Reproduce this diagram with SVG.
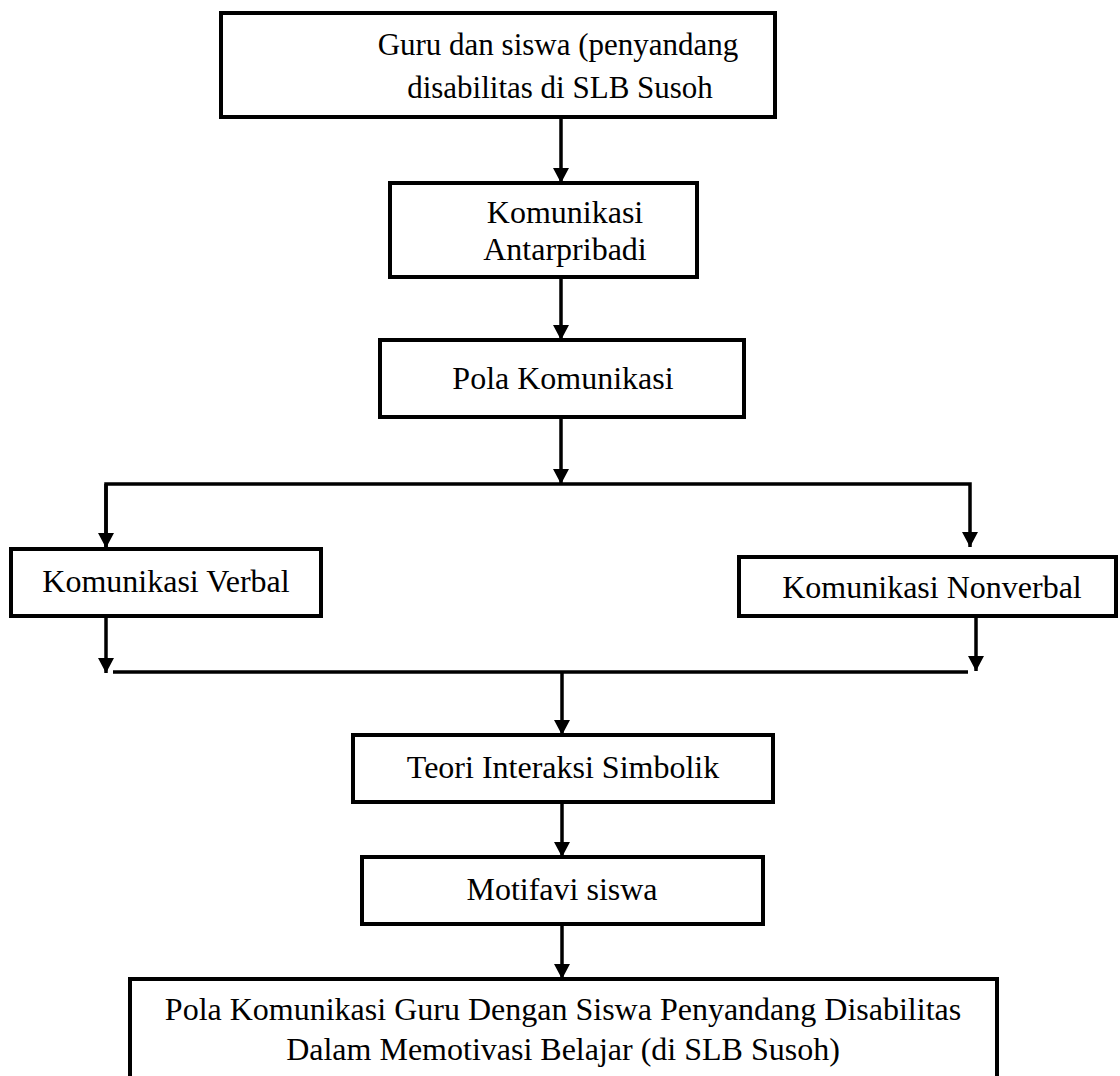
<svg xmlns="http://www.w3.org/2000/svg" width="1120" height="1076" viewBox="0 0 1120 1076">
<defs>
<style>
.box{fill:#fff;stroke:#000;stroke-width:4}
.t{font-family:"Liberation Serif","Times New Roman",serif;font-size:32px;fill:#000;text-anchor:middle}
.s{font-size:31px}
.c{fill:none;stroke:#000;stroke-width:3.5}
</style>
<marker id="ah" markerUnits="userSpaceOnUse" markerWidth="16" markerHeight="16" refX="15" refY="8" orient="auto">
<path d="M0,0 L15,8 L0,16 z" fill="#000"/>
</marker>
</defs>
<rect width="1120" height="1076" fill="#fff"/>
<g id="connectors">
<line class="c" x1="561" y1="117" x2="561" y2="183" marker-end="url(#ah)"/>
<line class="c" x1="561" y1="277" x2="561" y2="340" marker-end="url(#ah)"/>
<line class="c" x1="561" y1="417" x2="561" y2="484" marker-end="url(#ah)"/>
<polyline class="c" points="106,547 106,484 970,484 970,547" marker-end="url(#ah)"/>
<line class="c" x1="106" y1="484" x2="106" y2="548" marker-end="url(#ah)"/>
<line class="c" x1="106" y1="617" x2="106" y2="673" marker-end="url(#ah)"/>
<line class="c" x1="976" y1="617" x2="976" y2="671" marker-end="url(#ah)"/>
<line class="c" x1="113" y1="672" x2="968" y2="672"/>
<line class="c" x1="562" y1="672" x2="562" y2="735" marker-end="url(#ah)"/>
<line class="c" x1="562" y1="802" x2="562" y2="857" marker-end="url(#ah)"/>
<line class="c" x1="562" y1="924" x2="562" y2="979" marker-end="url(#ah)"/>
</g>
<g id="n1"><rect class="box" x="221" y="13" width="554" height="104"/>
<text class="t s" x="558" y="55">Guru dan siswa (penyandang</text>
<text class="t s" x="560" y="98">disabilitas di SLB Susoh</text></g>
<g id="n2"><rect class="box" x="390" y="183" width="307" height="94"/>
<text class="t" x="565" y="223">Komunikasi</text>
<text class="t" x="565" y="260">Antarpribadi</text></g>
<g id="n3"><rect class="box" x="380" y="340" width="364" height="77"/>
<text class="t" x="563" y="389">Pola Komunikasi</text></g>
<g id="n4"><rect class="box" x="11" y="549" width="310" height="67"/>
<text class="t" x="166" y="592">Komunikasi Verbal</text></g>
<g id="n5"><rect class="box" x="739" y="557" width="377" height="59"/>
<text class="t" x="932" y="598">Komunikasi Nonverbal</text></g>
<g id="n6"><rect class="box" x="353" y="735" width="420" height="67"/>
<text class="t" x="563" y="778">Teori Interaksi Simbolik</text></g>
<g id="n7"><rect class="box" x="362" y="857" width="401" height="67"/>
<text class="t" x="562" y="900">Motifavi siswa</text></g>
<g id="n8"><rect class="box" x="130" y="979" width="867" height="110"/>
<text class="t" x="563" y="1020">Pola Komunikasi Guru Dengan Siswa Penyandang Disabilitas</text>
<text class="t" x="563" y="1060">Dalam Memotivasi Belajar (di SLB Susoh)</text></g>
</svg>
